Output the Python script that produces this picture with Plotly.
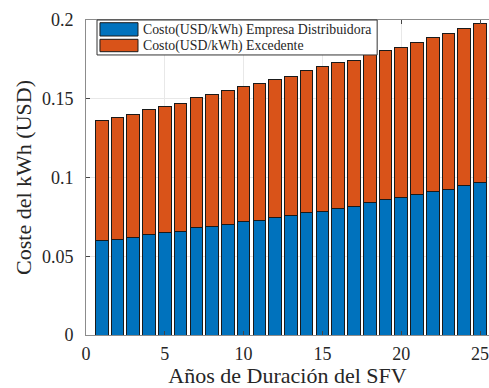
import plotly.graph_objects as go

years = list(range(1, 26))
total = [0.1359, 0.1380, 0.1399, 0.1429, 0.1448, 0.1467, 0.1511, 0.1528, 0.1551, 0.1579,
         0.1598, 0.1625, 0.1644, 0.1681, 0.1702, 0.1729, 0.1746, 0.1778, 0.1805, 0.1824,
         0.1858, 0.1886, 0.1916, 0.1943, 0.1975]
empresa = [0.0599, 0.0608, 0.0618, 0.0635, 0.0648, 0.0658, 0.0681, 0.0692, 0.0700, 0.0722,
           0.0730, 0.0749, 0.0759, 0.0779, 0.0787, 0.0806, 0.0817, 0.0842, 0.0861, 0.0870,
           0.0891, 0.0908, 0.0927, 0.0948, 0.0967]
excedente = [round(t - e, 4) for t, e in zip(total, empresa)]

names = ["Costo(USD/kWh) Empresa Distribuidora", "Costo(USD/kWh) Excedente"]
colors = ["#0072BD", "#D95319"]
x_ticks = [0, 5, 10, 15, 20, 25]
y_ticks = [0, 0.05, 0.1, 0.15, 0.2]
y_ticklabels = ["0", "0.05", "0.1", "0.15", "0.2"]

font = "Liberation Serif"

fig = go.Figure()
for vals, name, col in zip([empresa, excedente], names, colors):
    fig.add_trace(go.Bar(x=years, y=vals, name=name, width=0.8, showlegend=False,
                         marker=dict(color=col, line=dict(color="#1a1a1a", width=1))))

# manual legend box (MATLAB style)
fig.add_shape(type="rect", xref="paper", yref="paper", x0=0.0273, x1=0.7225, y0=0.889, y1=1.0,
              fillcolor="white", line=dict(color="#333333", width=1), layer="above")
sw_y = [(0.9492, 0.9914), (0.8994, 0.9387)]
txt_y = [0.9668, 0.9159]
for (y0, y1), ty, name, col in zip(sw_y, txt_y, names, colors):
    fig.add_shape(type="rect", xref="paper", yref="paper", x0=0.0347, x1=0.1290, y0=y0, y1=y1,
                  fillcolor=col, line=dict(color="#1a1a1a", width=1), layer="above")
    fig.add_annotation(xref="paper", yref="paper", x=0.1355, y=ty, text=name, showarrow=False,
                       xanchor="left", yanchor="middle",
                       font=dict(family=font, size=13.8, color="#262626"))

fig.update_layout(
    barmode="stack",
    width=489, height=388,
    margin=dict(l=86, r=0, t=20, b=53, autoexpand=False),
    plot_bgcolor="white", paper_bgcolor="white",
    font=dict(family=font, size=18, color="#262626"),
    showlegend=False,
)
fig.update_xaxes(range=[0, 25.57], tickvals=x_ticks, ticks="inside", ticklen=4,
                 tickcolor="#444", showline=True, linecolor="#8c8c8c", mirror="ticks",
                 showgrid=True, gridcolor="#e8e8e8", zeroline=False, automargin=False,
                 tickfont=dict(size=18), ticklabelstandoff=2, ticklabeloverflow="allow",
                 title=dict(text="Años de Duración del SFV", font=dict(size=22), standoff=2))
fig.update_yaxes(range=[0, 0.2], tickvals=y_ticks, ticktext=y_ticklabels, ticks="inside",
                 ticklen=4, tickcolor="#444", showline=True, linecolor="#8c8c8c", mirror=False,
                 showgrid=True, gridcolor="#e8e8e8", zeroline=False, automargin=False,
                 tickfont=dict(size=18), ticklabelstandoff=8,
                 title=dict(text="Coste del kWh (USD)", font=dict(size=22), standoff=4))

fig.write_html("out.html", config={"displayModeBar": False},
               post_script="document.body.style.margin='0';document.body.style.overflow='hidden';")
